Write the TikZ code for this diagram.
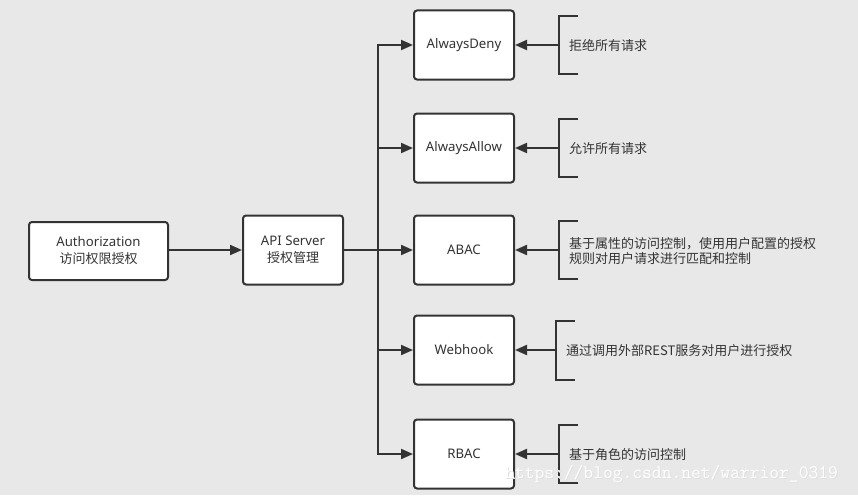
\documentclass[tikz,border=0pt]{standalone}
\usepackage{fontspec}
\setmainfont{Noto Sans}
\newfontfamily\cjk{Noto Sans CJK SC}
\usetikzlibrary{arrows.meta,calc}
\definecolor{bg}{HTML}{E8E8E8}
\definecolor{ln}{HTML}{333333}
\newcommand{\zh}[1]{{\cjk\fontsize{13}{17}\selectfont #1}}
\tikzset{
  box/.style={draw=ln, line width=2pt, fill=white, rounded corners=3pt, minimum width=100pt, minimum height=69pt, inner sep=0pt, font=\fontsize{13.2}{17}\selectfont, text=ln, align=center},
  conn/.style={draw=ln, line width=2pt},
  arr/.style={conn, -{Triangle[length=12pt,width=10pt]}},
  note/.style={anchor=west, inner sep=0pt, font=\cjk\fontsize{13}{15.5}\selectfont, text=ln, align=left},
  wmark/.style={anchor=base west, inner sep=0pt, font=\ttfamily\fontsize{19}{20}\selectfont},
}
\begin{document}
\begin{tikzpicture}[x=1pt,y=-1pt]
\fill[bg] (0,0) rectangle (858,495);
\useasboundingbox (0,0) rectangle (858,495);
\node[box, minimum width=139pt, minimum height=58pt] (auth) at (98.5,251) {Authorization\\\zh{访问权限授权}};
\node[box] (api) at (293,250) {API Server\\\zh{授权管理}};
\node[box] (deny) at (464,45) {AlwaysDeny};
\node[box] (allow) at (464,148) {AlwaysAllow};
\node[box] (abac) at (464,250) {ABAC};
\node[box] (web) at (464,350) {Webhook};
\node[box] (rbac) at (464,454) {RBAC};
\draw[arr] (auth.east |- api.west) -- (api.west);
\coordinate (bt) at (378,45);
\coordinate (bb) at (378,454);
\coordinate (bm) at (378,250);
\draw[conn] (api.east) -- (bm);
\draw[conn, line cap=rect] (bt) -- (bb);
\foreach \b in {deny,allow,abac,web,rbac} {\draw[arr] (378,0 |- \b.west) -- (\b.west);}
% brackets
\foreach \b/\x/\t/\h in {deny/559/拒绝所有请求/57, allow/559/允许所有请求/58, abac/559/{基于属性的访问控制，使用用户配置的授权\\规则对用户请求进行匹配和控制}/58, web/556/通过调用外部REST服务对用户进行授权/59, rbac/559/基于角色的访问控制/58} {
  \coordinate (m\b) at (\x,0 |- \b.east);
  \draw[conn] ($(m\b)+(19,-\h/2)$) -- ($(m\b)+(0,-\h/2)$) -- ($(m\b)+(0,\h/2)$) -- ($(m\b)+(19,\h/2)$);
  \draw[arr] (m\b) -- (\b.east);
  \node[note] (n\b) at ($(m\b)+(10,1)$) {\t};
}
\node[wmark, text=black!12] (wms) at (506,479) {https://blog.csdn.net/warrior\_0319};
\node[wmark, text=white] (wm) at (505,478) {https://blog.csdn.net/warrior\_0319};
\end{tikzpicture}
\end{document}
